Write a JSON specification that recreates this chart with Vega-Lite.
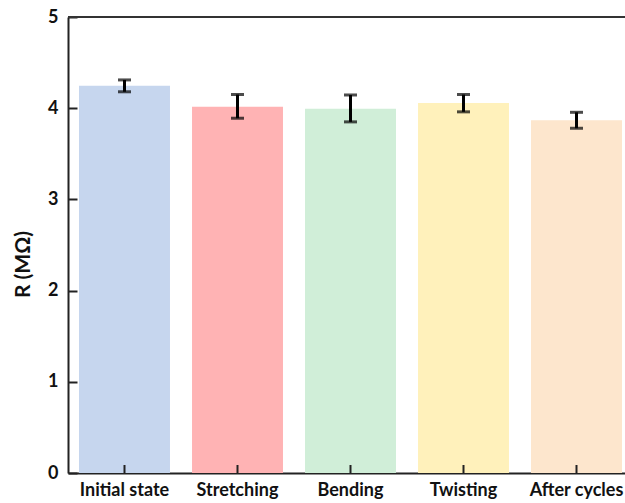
{
  "$schema": "https://vega.github.io/schema/vega-lite/v6.json",
  "autosize": {"type": "none"},
  "width": 557,
  "height": 456,
  "padding": {"left": 68, "top": 17, "right": 0, "bottom": 30},
  "background": "white",
  "config": {
    "view": {"stroke": null},
    "font": "Lato",
    "axis": {"grid": false, "domainColor": "#222", "domainWidth": 2, "tickColor": "#222", "tickWidth": 2, "labelColor": "#111", "labelFont": "Lato", "labelFontWeight": "bold", "titleFont": "Lato", "titleFontWeight": "bold", "titleColor": "#111"}
  },
  "resolve": {"axis": {"y": "independent"}},
  "data": {"values": [
    {"state": "Initial state", "R": 4.245, "lo": 4.18, "hi": 4.31},
    {"state": "Stretching", "R": 4.017, "lo": 3.89, "hi": 4.15},
    {"state": "Bending", "R": 3.995, "lo": 3.85, "hi": 4.145},
    {"state": "Twisting", "R": 4.057, "lo": 3.96, "hi": 4.15},
    {"state": "After cycles", "R": 3.867, "lo": 3.78, "hi": 3.955}
  ]},
  "encoding": {
    "x": {"field": "state", "type": "nominal", "sort": null,
      "scale": {"range": [0, 565], "paddingInner": 0.195, "paddingOuter": 0.0975},
      "axis": {"title": null, "labelAngle": 0, "labelFontSize": 18, "ticks": false, "labelPadding": 8, "labelBaseline": "top"}}
  },
  "layer": [
    {
      "mark": {"type": "bar"},
      "encoding": {
        "y": {"field": "R", "type": "quantitative",
          "scale": {"domain": [0, 5], "nice": false},
          "axis": {"orient": "left", "title": "R (MΩ)", "titleFontSize": 21, "values": [0, 1, 2, 3, 4, 5], "format": "d", "labelFontSize": 18, "ticks": false, "labelPadding": 10, "titleX": -45, "titleY": 247, "titleAlign": "center", "titleBaseline": "middle", "titleAngle": -90}},
        "color": {"field": "state", "type": "nominal", "sort": null, "legend": null,
          "scale": {"domain": ["Initial state", "Stretching", "Bending", "Twisting", "After cycles"],
            "range": ["#c6d6ee", "#ffb3b4", "#d0eed8", "#fff1bb", "#fde6cd"]}}
      }
    },
    {
      "mark": {"type": "rule", "color": "black", "strokeWidth": 3},
      "encoding": {"y": {"field": "lo", "type": "quantitative",
        "axis": {"orient": "left", "offset": -9, "tickSize": 9, "tickColor": "#222", "tickWidth": 2, "labels": false, "domain": false, "title": null, "values": [0, 1, 2, 3, 4, 5]}}, "y2": {"field": "hi"}}
    },
    {
      "mark": {"type": "tick", "color": "black", "thickness": 3, "size": 13, "orient": "horizontal"},
      "encoding": {"y": {"field": "lo", "type": "quantitative", "axis": null}}
    },
    {
      "mark": {"type": "tick", "color": "black", "thickness": 3, "size": 13, "orient": "horizontal"},
      "encoding": {"y": {"field": "hi", "type": "quantitative", "axis": null}}
    },
    {
      "mark": {"type": "rule", "color": "#222", "strokeWidth": 2},
      "encoding": {"y": {"datum": 0, "type": "quantitative", "axis": null}, "y2": {"datum": 0.088}}
    },
    {
      "data": {"values": [{"top": 5}]},
      "mark": {"type": "rule", "color": "#333", "strokeWidth": 2},
      "encoding": {"y": {"field": "top", "type": "quantitative", "axis": null}, "x": {"value": 0}, "x2": {"value": 565}}
    }
  ]
}
